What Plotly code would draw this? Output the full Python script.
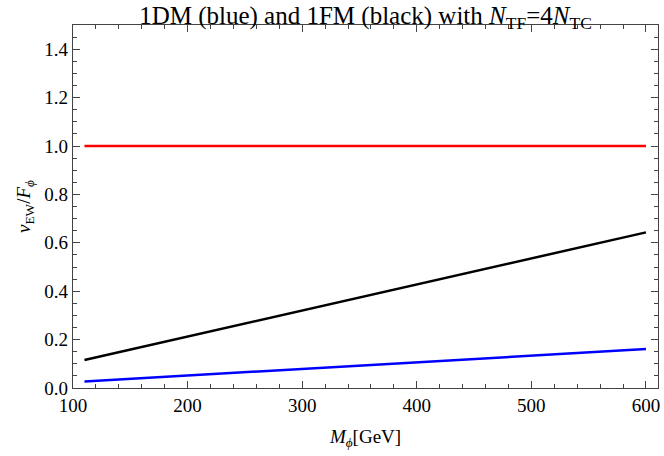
import plotly.graph_objects as go

# Data
m_line = [110, 600]           # M_phi [GeV]
red_vals = [1.0, 1.0]         # reference line
black_vals = [0.116, 0.643]   # 1FM
blue_vals = [0.027, 0.161]    # 1DM

x_ticks = [100, 200, 300, 400, 500, 600]
y_ticks = [0.0, 0.2, 0.4, 0.6, 0.8, 1.0, 1.2, 1.4]
y_ticklabels = ["0.0", "0.2", "0.4", "0.6", "0.8", "1.0", "1.2", "1.4"]

font_family = "Liberation Serif, Times New Roman, serif"
frame_col = "#444444"

fig = go.Figure()
fig.add_trace(go.Scatter(x=m_line, y=red_vals, mode="lines",
                         line=dict(color="#ff0000", width=2.5), showlegend=False))
fig.add_trace(go.Scatter(x=m_line, y=black_vals, mode="lines",
                         line=dict(color="#000000", width=2.5), showlegend=False))
fig.add_trace(go.Scatter(x=m_line, y=blue_vals, mode="lines",
                         line=dict(color="#0000ff", width=2.5), showlegend=False))

fig.update_layout(
    width=664, height=456,
    margin=dict(l=73, r=4, t=25, b=68),
    paper_bgcolor="white", plot_bgcolor="white",
    font=dict(family=font_family, color="black", size=19),
    title=dict(
        text="1DM (blue) and 1FM (black) with <i>N</i><sub>TF</sub>=4<i>N</i><sub>TC</sub>",
        x=0.5, xref="paper", xanchor="center",
        y=1.0, yref="paper", yanchor="bottom", pad=dict(b=1),
        font=dict(family=font_family, size=25, color="black"),
    ),
)

fig.update_xaxes(
    range=[100, 610.5], showgrid=False, zeroline=False,
    showline=True, linecolor=frame_col, linewidth=1.2, mirror="ticks",
    tickmode="array", tickvals=x_ticks, ticktext=[str(v) for v in x_ticks],
    ticks="inside", ticklen=7, tickcolor=frame_col, tickwidth=1,
    minor=dict(ticks="inside", dtick=20, ticklen=4, tickcolor=frame_col, showgrid=False),
    tickfont=dict(size=19),
    title=dict(text="<i>M</i><sub><i>ϕ</i></sub>[GeV]", font=dict(size=19), standoff=14),
)
fig.update_yaxes(
    range=[0, 1.5], showgrid=False, zeroline=False,
    showline=True, linecolor=frame_col, linewidth=1.2, mirror="ticks",
    tickmode="array", tickvals=y_ticks, ticktext=y_ticklabels,
    ticks="inside", ticklen=7, tickcolor=frame_col, tickwidth=1,
    minor=dict(ticks="inside", dtick=0.05, ticklen=4, tickcolor=frame_col, showgrid=False),
    tickfont=dict(size=19),
    title=dict(text="<i>v</i><sub>EW</sub>/<i>F</i><sub><i>ϕ</i></sub>", font=dict(size=19), standoff=8),
)

# remove the browser's default 8px body margin so the figure fills the window
fig.write_html("out.html", config={"displayModeBar": False},
               post_script="document.body.style.margin='0';")
